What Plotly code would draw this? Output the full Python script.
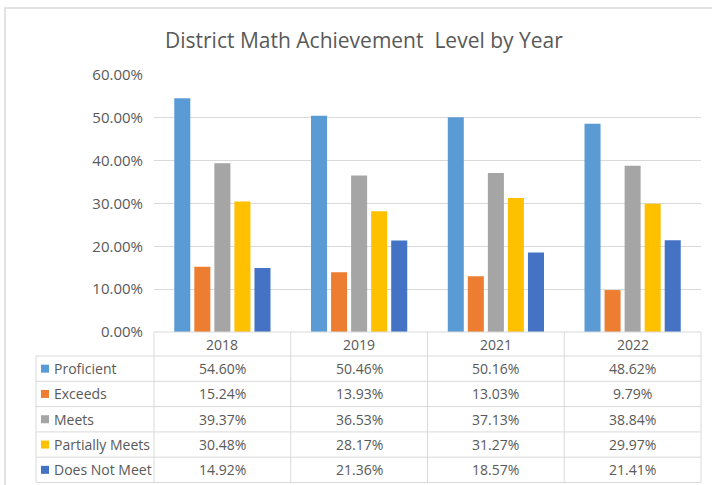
import plotly.graph_objects as go

years = ["2018", "2019", "2021", "2022"]
series_names = ["Proficient", "Exceeds", "Meets", "Partially Meets", "Does Not Meet"]
proficient = [0.5460, 0.5046, 0.5016, 0.4862]
exceeds = [0.1524, 0.1393, 0.1303, 0.0979]
meets = [0.3937, 0.3653, 0.3713, 0.3884]
partially_meets = [0.3048, 0.2817, 0.3127, 0.2997]
does_not_meet = [0.1492, 0.2136, 0.1857, 0.2141]
series_values = [proficient, exceeds, meets, partially_meets, does_not_meet]
colors = ["#5B9BD5", "#ED7D31", "#A5A5A5", "#FFC000", "#4472C4"]

W, H = 712, 485
L, R, T, B = 154, 701, 75, 332  # plot area in pixels
FONT = "Open Sans"
GREY = "#595959"
LINE = "#d9d9d9"


def px(x):
    return (x - L) / (R - L)


def py(y):
    return (B - y) / (B - T)


fig = go.Figure()
for name, vals, c in zip(series_names, series_values, colors):
    fig.add_trace(go.Bar(x=years, y=vals, name=name, marker=dict(color=c, line=dict(width=0))))

shapes = []
annotations = []

# outer chart frame
shapes.append(dict(type="rect", xref="paper", yref="paper", x0=px(5), x1=px(716), y0=py(8), y1=py(495),
                   line=dict(color=LINE, width=1.5), layer="below"))

# table geometry
row_top = 356
row_h = 25.3
n_rows = len(series_names)
bottom = row_top + row_h * n_rows
col_edges = [L + (R - L) * i / len(years) for i in range(len(years) + 1)]

shapes.append(dict(type="line", xref="paper", yref="paper", x0=px(L), x1=px(R), y0=py(B), y1=py(B),
                   line=dict(color=LINE, width=1)))
for xe in col_edges:
    shapes.append(dict(type="line", xref="paper", yref="paper", x0=px(xe), x1=px(xe), y0=py(B), y1=py(bottom),
                       line=dict(color=LINE, width=1)))
shapes.append(dict(type="line", xref="paper", yref="paper", x0=px(36), x1=px(36), y0=py(row_top), y1=py(bottom),
                   line=dict(color=LINE, width=1)))
for i in range(n_rows + 1):
    yy = row_top + row_h * i
    shapes.append(dict(type="line", xref="paper", yref="paper", x0=px(36), x1=px(R), y0=py(yy), y1=py(yy),
                       line=dict(color=LINE, width=1)))

# header years
for j, yr in enumerate(years):
    annotations.append(dict(x=j, xref="x", y=py((B + row_top) / 2), yref="paper", text=yr, showarrow=False,
                            font=dict(family=FONT, size=14, color=GREY), xanchor="center", yanchor="middle"))

for i, (name, vals, c) in enumerate(zip(series_names, series_values, colors)):
    cy = row_top + row_h * i + row_h / 2
    shapes.append(dict(type="rect", xref="paper", yref="paper", x0=px(41), x1=px(49), y0=py(cy - 4), y1=py(cy + 4),
                       fillcolor=c, line=dict(width=0)))
    annotations.append(dict(x=px(52), xref="paper", y=py(cy), yref="paper", text=name, showarrow=False,
                            font=dict(family=FONT, size=14, color=GREY), xanchor="left", yanchor="middle"))
    for j, v in enumerate(vals):
        annotations.append(dict(x=j, xref="x", y=py(cy), yref="paper", text=f"{v * 100:.2f}%", showarrow=False,
                                font=dict(family=FONT, size=14, color=GREY), xanchor="center", yanchor="middle"))

annotations.append(dict(x=px(364), xref="paper", y=py(40), yref="paper",
                        text="District Math Achievement&nbsp; Level by Year", showarrow=False,
                        font=dict(family=FONT, size=21, color=GREY), xanchor="center", yanchor="middle"))

fig.update_layout(
    width=W, height=H,
    margin=dict(l=L, r=W - R, t=T, b=H - B),
    paper_bgcolor="white", plot_bgcolor="white",
    barmode="group", bargap=0.267, bargroupgap=0.2,
    showlegend=False,
    font=dict(family=FONT, color=GREY),
    xaxis=dict(type="category", range=[-0.5, 3.5], showticklabels=False, showgrid=False, zeroline=False,
               showline=False, fixedrange=True),
    yaxis=dict(range=[0, 0.6], dtick=0.1, tickformat=".2%", showgrid=True, gridcolor=LINE, gridwidth=1,
               zeroline=False, showline=False, tickfont=dict(family=FONT, size=15, color=GREY),
               ticklabelstandoff=10, fixedrange=True),
    shapes=shapes,
    annotations=annotations,
)

fig.write_html("out.html", config={"displayModeBar": False},
               post_script="document.body.style.margin='0';document.body.style.overflow='hidden';")
